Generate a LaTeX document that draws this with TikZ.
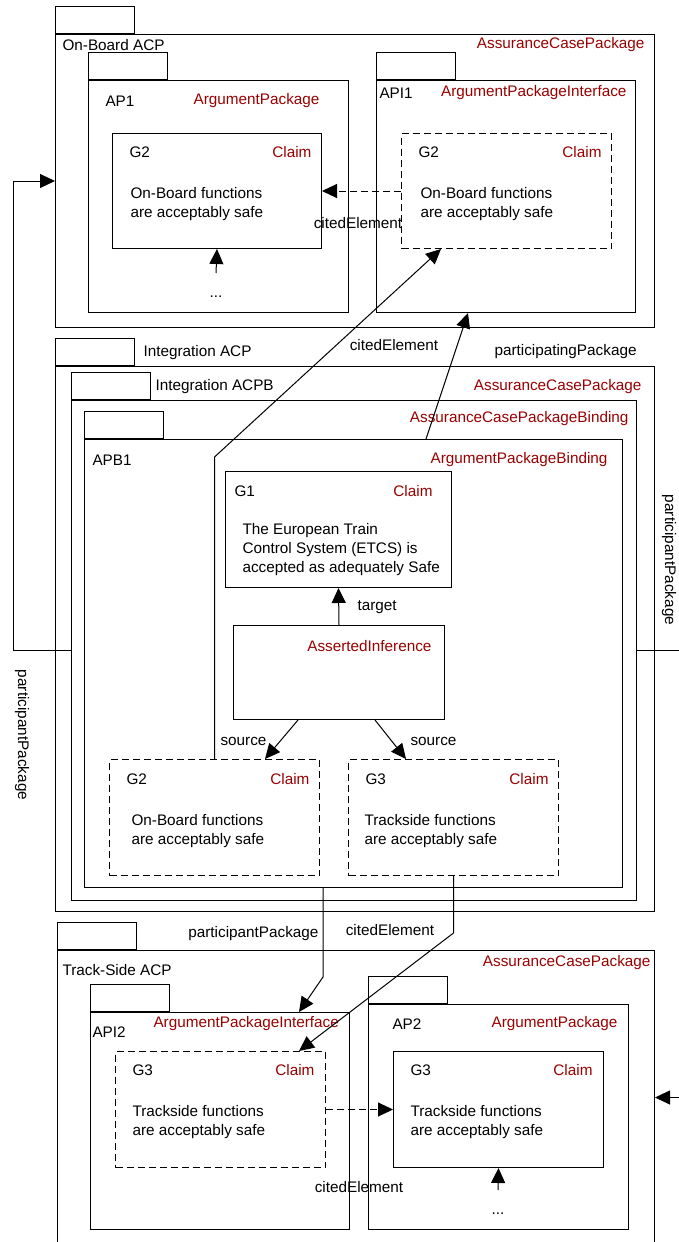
\documentclass[tikz,border=0pt]{standalone}
\usepackage{fontspec}
\setmainfont{Liberation Sans}
\usetikzlibrary{arrows.meta,calc}
\colorlet{metared}{red!60!black}

\begin{document}
\begin{tikzpicture}[x=1pt,y=-1pt,>={Triangle[length=15pt,width=14pt]},line width=1pt,
  font=\fontsize{15.3}{19}\selectfont,
  pkg/.style 2 args={draw,anchor=north west,inner sep=0pt,minimum width=#1pt,minimum height=#2pt},
  tab/.style={draw,anchor=south west,inner sep=0pt,minimum width=79pt,minimum height=27pt},
  cited/.style={dash pattern=on 7pt off 4pt},
  lbl/.style={inner sep=0pt},
  kind/.style={inner sep=0pt,text=metared},
  body/.style={inner sep=0pt,align=left,anchor=west}]
\clip (0,0) rectangle (679,1242);
% on-board
\node[pkg={599}{293}] (obACP) at (55,34) {};
\node[tab] (obTab) at (obACP.north west) {};
\node[lbl,anchor=west] (obName) at (62,45) {On-Board ACP};
\node[kind,anchor=east] (obKind) at (645,45) {AssuranceCasePackage};
\node[pkg={260}{232}] (ap1) at (88,80) {};
\node[tab] (ap1Tab) at (ap1.north west) {};
\node[lbl,anchor=west] (ap1Name) at (105,101) {AP1};
\node[kind,anchor=east] (ap1Kind) at (320,101) {ArgumentPackage};
\node[pkg={209}{115}] (obG2) at (112,133) {};
\node[lbl,anchor=west] (obG2Id) at (129,152) {G2};
\node[kind,anchor=east] (obG2Kind) at (312,152) {Claim};
\node[body] (obG2Text) at (130,204) {On-Board functions\\are acceptably safe};
\node[lbl] (ap1Dots) at (216,297) {...};
\node[pkg={259}{232}] (api1) at (376,80) {};
\node[tab] (api1Tab) at (api1.north west) {};
\node[lbl,anchor=west] (api1Name) at (379,93) {API1};
\node[kind,anchor=east] (api1Kind) at (627,93) {ArgumentPackageInterface};
\node[pkg={210}{115},cited] (obG2c) at (401,133) {};
\node[lbl,anchor=west] (obG2cId) at (418,152) {G2};
\node[kind,anchor=east] (obG2cKind) at (602,152) {Claim};
\node[body] (obG2cText) at (420,204) {On-Board functions\\are acceptably safe};
\node[lbl] (obCiteLbl) at (358,223) {citedElement};
% integration
\node[pkg={599}{545}] (intACP) at (55,366) {};
\node[tab] (intTab) at (intACP.north west) {};
\node[lbl,anchor=west] (intName) at (143,353) {Integration ACP};
\node[kind,anchor=east] (intKind) at (642,387) {AssuranceCasePackage};
\node[pkg={565}{500}] (acpb) at (71,400) {};
\node[tab] (acpbTab) at (acpb.north west) {};
\node[lbl,anchor=west] (acpbName) at (155,387) {Integration ACPB};
\node[kind,anchor=east] (acpbKind) at (629,419) {AssuranceCasePackageBinding};
\node[pkg={538}{448}] (apb) at (84,439) {};
\node[tab] (apbTab) at (apb.north west) {};
\node[lbl,anchor=west] (apbName) at (92,460) {APB1};
\node[kind,anchor=east] (apbKind) at (608,460) {ArgumentPackageBinding};
\node[pkg={226}{116}] (g1) at (225,471) {};
\node[lbl,anchor=west] (g1Id) at (234,491) {G1};
\node[kind,anchor=east] (g1Kind) at (433,491) {Claim};
\node[body] (g1Text) at (242,550) {The European Train\\Control System (ETCS) is\\accepted as adequately Safe};
\node[pkg={211}{94}] (inf) at (233,625) {};
\node[kind,anchor=east] (infKind) at (432,646) {AssertedInference};
\node[lbl,anchor=west] (targetLbl) at (357,607) {target};
\node[pkg={210}{116},cited] (apbG2) at (109,759) {};
\node[lbl,anchor=west] (apbG2Id) at (126,779) {G2};
\node[kind,anchor=east] (apbG2Kind) at (310,779) {Claim};
\node[body] (apbG2Text) at (131,831) {On-Board functions\\are acceptably safe};
\node[pkg={210}{116},cited] (apbG3) at (348,759) {};
\node[lbl,anchor=west] (apbG3Id) at (365,779) {G3};
\node[kind,anchor=east] (apbG3Kind) at (549,779) {Claim};
\node[body] (apbG3Text) at (364,831) {Trackside functions\\are acceptably safe};
\node[lbl,anchor=east] (srcLblA) at (267,741) {source};
\node[lbl,anchor=west] (srcLblB) at (410,741) {source};
\node[lbl] (intCiteLbl) at (394,345) {citedElement};
\node[lbl,anchor=west] (partLbl) at (494,352) {participatingPackage};
\node[lbl,rotate=-90] (obPartLbl) at (22,735) {participantPackage};
\node[lbl,rotate=-90] (tsPartLblR) at (669,560) {participantPackage};
% track-side
\node[pkg={597}{294}] (tsACP) at (57,950) {};
\node[tab] (tsTab) at (tsACP.north west) {};
\node[lbl,anchor=west] (tsName) at (62,970) {Track-Side ACP};
\node[kind,anchor=east] (tsKind) at (651,963) {AssuranceCasePackage};
\node[lbl,anchor=east] (tsPartLbl) at (319,934) {participantPackage};
\node[lbl] (tsCiteLbl) at (390,930) {citedElement};
\node[pkg={259}{217}] (api2) at (90,1012) {};
\node[tab] (api2Tab) at (api2.north west) {};
\node[lbl,anchor=west] (api2Name) at (92,1032) {API2};
\node[kind,anchor=west] (api2Kind) at (153,1024) {ArgumentPackageInterface};
\node[pkg={210}{116},cited] (tsG3c) at (115,1051) {};
\node[lbl,anchor=west] (tsG3cId) at (132,1070) {G3};
\node[kind,anchor=east] (tsG3cKind) at (315,1070) {Claim};
\node[body] (tsG3cText) at (132,1122) {Trackside functions\\are acceptably safe};
\node[lbl] (tsCiteLbl2) at (359,1187) {citedElement};
\node[pkg={260}{225}] (ap2) at (368,1004) {};
\node[tab] (ap2Tab) at (ap2.north west) {};
\node[lbl,anchor=west] (ap2Name) at (392,1024) {AP2};
\node[kind,anchor=east] (ap2Kind) at (618,1024) {ArgumentPackage};
\node[pkg={210}{116}] (tsG3) at (393,1051) {};
\node[lbl,anchor=west] (tsG3Id) at (410,1070) {G3};
\node[kind,anchor=east] (tsG3Kind) at (593,1070) {Claim};
\node[body] (tsG3Text) at (410,1122) {Trackside functions\\are acceptably safe};
\node[lbl] (tsDots) at (498,1214) {...};
% connectors
\draw[->,cited] (obG2c.west) -- (obG2.east);
\draw[->] ([yshift=24pt]ap1Dots.center) -- (obG2.south);
\draw[->] (apbG2.north) -- ++(0,-302) -- ([xshift=40pt]obG2c.south west);
\draw[->] ([xshift=342pt]apb.north west) -- ([xshift=92pt]api1.south west);
\draw[->] (acpb.west) -- ++(-58,0) |- (obACP.west);
\draw[->] (acpb.east) -- ++(80,0) |- (tsACP.east);
\draw[->] (inf.north) -- (g1.south);
\draw[->] ([xshift=65pt]inf.south west) -- ([xshift=156pt]apbG2.north west);
\draw[->] ([xshift=142pt]inf.south west) -- ([xshift=58pt]apbG3.north west);
\draw[->] ([xshift=239pt]apb.south west) -- ++(0,89) -- ([xshift=209pt]api2.north west);
\draw[->] (apbG3.south) -- ++(0,57) -- ([xshift=184pt]tsG3c.north west);
\draw[->,cited] (tsG3c.east) -- (tsG3.west);
\draw[->] ([yshift=24pt]tsDots.center) -- (tsG3.south);
\end{tikzpicture}
\end{document}
